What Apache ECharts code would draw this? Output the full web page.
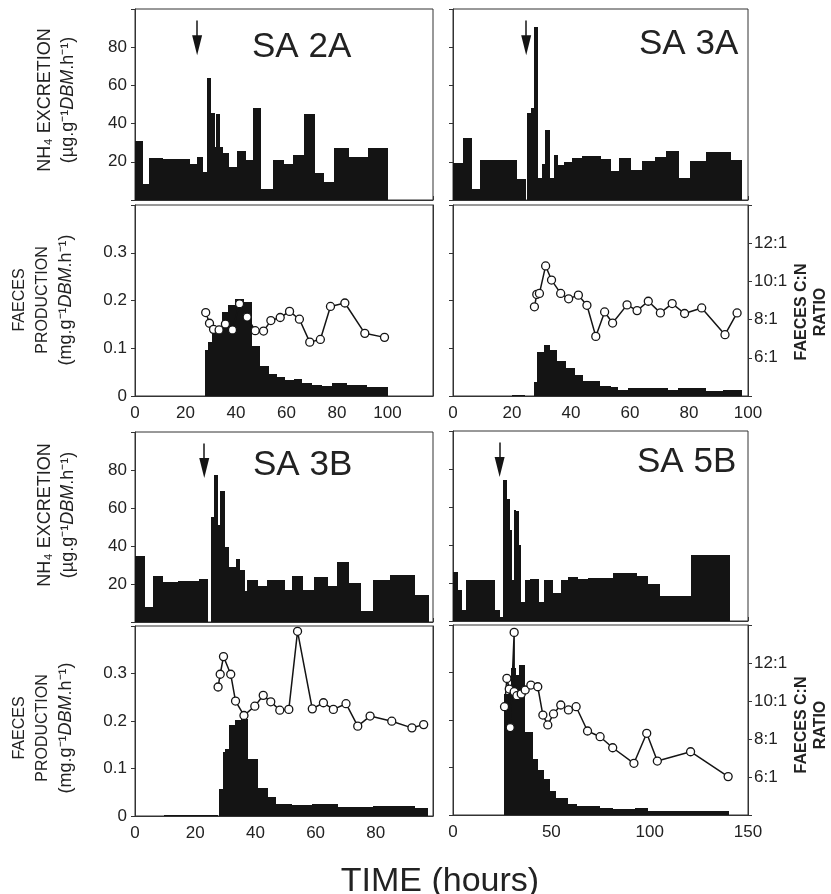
<!DOCTYPE html>
<html><head><meta charset="utf-8">
<script src="https://cdn.jsdelivr.net/npm/echarts@6/dist/echarts.min.js"></script>
<style>html,body{margin:0;padding:0;background:#fff}#c{width:831px;height:894px}</style>
</head><body><div id="c"></div>
<script>
// ---- DATA: steps as [startHour, endHour, value]; ratio points as [hour, C:N] ----
const panelNames = ['SA 2A', 'SA 3A', 'SA 3B', 'SA 5B'];
const timeMax = [118, 100, 99, 150];
const timeInterval = [20, 20, 20, 50];
const feedTimes = [24.6, 24.8, 23, 23.7];
const nh4Ticks = [20, 40, 60, 80];
const faecesTicks = [0, 0.1, 0.2, 0.3];
const ratioTicks = [6, 8, 10, 12];

const nh4_2A = [[0,3.3,31],[3.3,5.6,8.5],[5.6,11.2,22],[11.2,21.6,21.7],[21.6,24.5,19],[24.5,26.9,22.6],[26.9,28.7,14.6],[28.7,30.2,64],[30.2,31.5,45.5],[31.5,32.2,28],[32.2,33.7,45],[33.7,35,28],[35,37.4,24.7],[37.4,40.3,17.2],[40.3,43.9,25.5],[43.9,46.6,21.2],[46.6,50,48.2],[50,54.6,6],[54.6,59.1,20.9],[59.1,62.6,18.6],[62.6,66.8,23.8],[66.8,71.2,45.2],[71.2,75,14.2],[75,78.7,9.4],[78.7,84.7,27.3],[84.7,92.2,22.6],[92.2,100.3,27.3]];
const faeces_2A = [[27.8,29.1,0.096],[29.1,30.4,0.114],[30.4,32.4,0.136],[32.4,34.4,0.14],[34.4,37,0.176],[37,39.7,0.19],[39.7,43,0.204],[43,46.3,0.197],[46.3,49.6,0.105],[49.6,52.9,0.062],[52.9,56.2,0.046],[56.2,59.5,0.040],[59.5,62.8,0.033],[62.8,66.1,0.035],[66.1,70.1,0.028],[70.1,74.1,0.024],[74.1,78,0.021],[78,84,0.027],[84,91.9,0.024],[91.9,100.3,0.019]];
const ratio_2A = [[28.0,8.37],[29.5,7.81],[31.1,7.49],[33.3,7.46],[35.8,7.77],[38.6,7.46],[41.4,8.83],[44.4,8.13],[47.6,7.42],[50.9,7.40],[53.8,7.95],[57.5,8.11],[61.2,8.43],[65.1,8.02],[69.2,6.82],[73.4,6.96],[77.4,8.69],[83.1,8.87],[91.0,7.28],[98.8,7.07]];

const nh4_3A = [[0,3.4,19.5],[3.4,6.4,32.5],[6.4,9.0,5.9],[9.0,21.6,20.9],[21.6,24.7,10.8],[25.0,26.4,45.6],[26.4,27.5,48.2],[27.5,28.9,90.8],[28.9,30.1,11.6],[30.1,31.3,19.1],[31.3,32.9,36.9],[32.9,34.2,11.3],[34.2,35.7,23.6],[35.7,37.6,18.1],[37.6,40.5,20.1],[40.5,43.6,21.9],[43.6,50.1,22.9],[50.1,53.4,21.5],[53.4,56.2,15.1],[56.2,60.5,21.9],[60.5,64.2,15.5],[64.2,68.4,20.5],[68.4,72.1,22.3],[72.1,76.6,25.6],[76.6,80.2,11.6],[80.2,85.8,20.5],[85.8,94.3,25.1],[94.3,98,20.9]];
const faeces_3A = [[19.9,24.4,0.002],[27.3,28.6,0.030],[28.6,30.9,0.092],[30.9,32.9,0.107],[32.9,35.4,0.097],[35.4,38.3,0.073],[38.3,41.3,0.059],[41.3,44.1,0.043],[44.1,49.8,0.032],[49.8,53.4,0.021],[53.4,56,0.019],[56,59.3,0.012],[59.3,72.9,0.017],[72.9,76.2,0.012],[76.2,85.8,0.016],[85.8,91.4,0.010],[91.4,98,0.012]];
const ratio_3A = [[27.6,8.67],[28.4,9.32],[29.3,9.37],[31.4,10.81],[33.4,10.07],[36.5,9.37],[39.2,9.09],[42.5,9.28],[45.4,8.75],[48.4,7.12],[51.4,8.40],[54.1,7.82],[59,8.77],[62.4,8.47],[66.2,8.96],[70.3,8.35],[74.3,8.84],[78.5,8.32],[84.3,8.61],[92.2,7.21],[96.3,8.35]];

const nh4_3B = [[0,3.3,34.9],[3.3,5.9,8.1],[5.9,9.2,24.3],[9.2,14.2,21.3],[14.2,21.4,21.7],[21.4,24.2,22.6],[25.3,26.4,55.2],[26.4,27.6,77.2],[27.6,28.3,50.8],[28.3,29.8,69],[29.8,31.2,39.5],[31.2,33.4,28.7],[33.4,35,33.3],[35,36.4,27.5],[36.4,37.2,16.4],[37.2,40.9,22.2],[40.9,43.9,19],[43.9,49.8,22.2],[49.8,52.2,16.9],[52.2,55.7,24.3],[55.7,59.4,16.6],[59.4,64.2,23.6],[64.2,67,18.7],[67,71.2,31.4],[71.2,75,20.5],[75,79.2,6],[79.2,84.8,22.2],[84.8,93.1,24.5],[93.1,97.6,14.3]];
const faeces_3B = [[9.8,27.6,0.002],[27.9,29.2,0.057],[29.2,30,0.135],[30,31.1,0.142],[31.1,33.1,0.192],[33.1,35.3,0.202],[35.3,37.6,0.204],[37.6,40.9,0.121],[40.9,44.2,0.060],[44.2,46.7,0.041],[46.7,52,0.025],[52,58.7,0.023],[58.7,67.6,0.025],[67.6,79.2,0.018],[79.2,93.1,0.022],[93.1,97.3,0.016]];
const ratio_3B = [[27.6,10.79],[28.3,11.46],[29.4,12.39],[31.8,11.46],[33.4,10.05],[36.2,9.29],[39.8,9.78],[42.6,10.35],[45.1,10.01],[48.1,9.57],[51.1,9.61],[54,13.72],[58.9,9.64],[62.6,9.96],[65.9,9.61],[70.1,9.91],[74,8.73],[78.1,9.26],[85.3,8.99],[92,8.64],[95.9,8.81]];

const nh4_5B = [[0,2.4,25.8],[2.4,4.6,16.1],[4.6,6.8,6],[6.8,21.2,21.8],[21.2,24,6],[24,25.4,2],[25.4,27.4,74.4],[27.4,28.8,64.4],[28.8,29.9,47.7],[29.9,30.8,21.4],[30.8,32.1,58.2],[32.1,33.5,57.9],[33.5,34.7,40],[34.7,36.7,10],[36.7,39.3,21.4],[39.3,43.8,22.3],[43.8,46.4,10],[46.4,50.8,21.4],[50.8,54.8,14.7],[54.8,58.7,21.4],[58.7,63.5,23.2],[63.5,68.5,21.9],[68.5,81.2,22.5],[81.2,93.4,25.3],[93.4,99,23.9],[99,105.2,19.6],[105.2,120.8,13],[120.8,140.8,34.6]];
const faeces_5B = [[25.7,29.6,0.255],[29.6,32.1,0.31],[32.1,33.7,0.295],[33.7,36.4,0.315],[36.4,40.6,0.174],[40.6,43.1,0.118],[43.1,46.4,0.094],[46.4,49.4,0.076],[49.4,52.5,0.05],[52.5,58.7,0.036],[58.7,62.9,0.024],[62.9,74.8,0.019],[74.8,81.6,0.015],[81.6,92.6,0.0125],[92.6,99.3,0.015],[99.3,117.1,0.009],[117.1,140.4,0.008]];
const ratio_5B = [[26.2,9.70],[27.4,11.19],[28.6,10.63],[29.1,8.60],[31.1,13.61],[31.1,10.49],[32.5,10.28],[34.7,10.37],[36.7,10.58],[39.6,10.84],[43.1,10.75],[45.7,9.26],[48.2,8.74],[51.1,9.32],[54.8,9.79],[58.7,9.53],[62.6,9.70],[68.4,8.42],[74.8,8.12],[81.2,7.54],[92,6.72],[98.5,8.30],[103.9,6.84],[120.8,7.33],[139.9,6.02]];

const nh4Data = [nh4_2A, nh4_3A, nh4_3B, nh4_5B];
const faecesData = [faeces_2A, faeces_3A, faeces_3B, faeces_5B];
const ratioData = [ratio_2A, ratio_3A, ratio_3B, ratio_5B];

// ---- LAYOUT ----
const FONT = 'Liberation Sans, Arial, Helvetica, sans-serif';
const INK = '#141414';
const TXT = '#222';
const panelBox = [
  {left:135, nh4Top:9,   fTop:205, width:298, h:191},
  {left:453, nh4Top:9,   fTop:205, width:295, h:191},
  {left:135, nh4Top:432, fTop:626, width:298, h:190},
  {left:453, nh4Top:431, fTop:625, width:295, h:190}
];

const grid = [], xAxis = [], yAxis = [], series = [];
function stepRender(params, api) {
  const a = api.coord([api.value(0), api.value(2)]);
  const b = api.coord([api.value(1), 0]);
  const x0 = Math.round(a[0]), x1 = Math.round(b[0]);
  const y0 = Math.round(a[1]), y1 = Math.round(b[1]);
  return {type:'rect', shape:{x:x0, y:y0, width:Math.max(1, x1 - x0), height:Math.max(1, y1 - y0)},
          style:{fill:INK}};
}
const axisLineStyle = {color:'#333', width:1};

for (let p = 0; p < 4; p++) {
  const bx = panelBox[p];
  const isLeft = (p % 2 === 0);
  const gN = grid.length;
  grid.push({left:bx.left, top:bx.nh4Top, width:bx.width, height:bx.h, show:true, borderColor:'#333', borderWidth:1, containLabel:false});
  const gF = grid.length;
  grid.push({left:bx.left, top:bx.fTop, width:bx.width, height:bx.h, show:true, borderColor:'#333', borderWidth:1, containLabel:false});

  const xN = xAxis.length;
  xAxis.push({type:'value', gridIndex:gN, min:0, max:timeMax[p], interval:timeInterval[p],
    axisLine:{lineStyle:axisLineStyle}, axisTick:{inside:true, length:4, lineStyle:{color:'#333'}},
    axisLabel:{show:false}, splitLine:{show:false}});
  const xF = xAxis.length;
  xAxis.push({type:'value', gridIndex:gF, min:0, max:timeMax[p], interval:timeInterval[p],
    axisLine:{lineStyle:axisLineStyle}, axisTick:{show:false},
    axisLabel:{show:true, fontSize:17, color:TXT, fontFamily:FONT, margin:9,
      formatter: v => (v > timeMax[p] - 1e-9 && timeMax[p] % timeInterval[p] !== 0) ? '' : String(v)},
    splitLine:{show:false}});

  const yN = yAxis.length;
  yAxis.push({type:'value', gridIndex:gN, min:0, max:100, interval:20,
    axisLine:{show:true, lineStyle:axisLineStyle}, axisTick:{show:true, length:4, lineStyle:{color:'#333'}},
    axisLabel:{show:isLeft, fontSize:17, color:TXT, fontFamily:FONT, margin:8,
      formatter: v => nh4Ticks.indexOf(v) >= 0 ? String(v) : ''},
    splitLine:{show:false}});
  const yF = yAxis.length;
  yAxis.push({type:'value', gridIndex:gF, min:0, max:0.4, interval:0.1,
    axisLine:{show:true, lineStyle:axisLineStyle}, axisTick:{show:true, length:4, lineStyle:{color:'#333'}},
    axisLabel:{show:isLeft, fontSize:17, color:TXT, fontFamily:FONT, margin:8,
      formatter: v => { const r = Math.round(v*10)/10; return faecesTicks.indexOf(r) >= 0 ? (r === 0 ? '0' : r.toFixed(1)) : ''; }},
    splitLine:{show:false}});
  const yR = yAxis.length;
  yAxis.push({type:'value', gridIndex:gF, position:'right', min:4, max:14, interval:2,
    axisLine:{show:true, lineStyle:axisLineStyle}, axisTick:{show:!isLeft, length:4, lineStyle:{color:'#333'}},
    axisLabel:{show:!isLeft, fontSize:17, color:TXT, fontFamily:FONT, margin:6,
      formatter: v => ratioTicks.indexOf(v) >= 0 ? v + ':1' : ''},
    splitLine:{show:false}});

  series.push({type:'custom', xAxisIndex:xN, yAxisIndex:yN, data:nh4Data[p], encode:{x:[0,1], y:2},
    renderItem:stepRender, silent:true, z:2, animation:false,
    markLine:{silent:true, animation:false, symbol:['none','triangle'], symbolSize:[10,20],
      lineStyle:{color:INK, width:1.5, type:'solid'}, label:{show:false},
      data:[[{coord:[feedTimes[p], 94]}, {coord:[feedTimes[p], 81]}]]}});
  series.push({type:'custom', xAxisIndex:xF, yAxisIndex:yF, data:faecesData[p], encode:{x:[0,1], y:2},
    renderItem:stepRender, silent:true, z:2, animation:false});
  series.push({type:'line', xAxisIndex:xF, yAxisIndex:yR, data:ratioData[p], symbol:'circle', symbolSize:8,
    showAllSymbol:true, animation:false, silent:true, z:5,
    itemStyle:{color:'#fff', borderColor:INK, borderWidth:1.3},
    lineStyle:{color:INK, width:1.5}});
}

// ---- TEXT ----
const graphic = [];
const titlePos = [[252,47],[639,44],[253,465],[637,462]];
for (let p = 0; p < 4; p++) {
  graphic.push({type:'text', x:titlePos[p][0], y:titlePos[p][1],
    style:{text:panelNames[p], font:'35px ' + FONT, fill:TXT, align:'left', verticalAlign:'middle'}});
}
function vText(x, y, text, rich) {
  graphic.push({type:'text', x:x, y:y, rotation:Math.PI/2,
    style:{text:text, rich:rich, font:'16px ' + FONT, fill:TXT, align:'center', verticalAlign:'middle'}});
}
const richUnits = {n:{fontSize:18, fontFamily:FONT, color:TXT}, i:{fontSize:18, fontFamily:FONT, fontStyle:'italic', color:TXT},
                   m:{fontSize:16, fontFamily:FONT, color:TXT}};
[100, 515].forEach(cy => {
  vText(45, cy, '{n|NH\u2084 EXCRETION}', richUnits);
  vText(68, cy, '{n|(\u00b5g.g\u207b\u00b9}{i|DBM}{n|.h\u207b\u00b9)}', richUnits);
});
[300, 728].forEach(cy => {
  vText(20, cy, '{m|FAECES}', richUnits);
  vText(43, cy, '{m|PRODUCTION}', richUnits);
  vText(66, cy, '{n|(mg.g\u207b\u00b9}{i|DBM}{n|.h\u207b\u00b9)}', richUnits);
});
const richBold = {b:{fontSize:16, fontFamily:FONT, fontWeight:'bold', color:TXT}};
[312, 725].forEach(cy => {
  vText(802, cy, '{b|FAECES C:N}', richBold);
  vText(821, cy, '{b|RATIO}', richBold);
});
graphic.push({type:'text', x:440, y:882,
  style:{text:'TIME (hours)', font:'34px ' + FONT, fill:TXT, align:'center', verticalAlign:'middle'}});

const chart = echarts.init(document.getElementById('c'), null, {renderer:'canvas'});
chart.setOption({animation:false, backgroundColor:'#fff', grid, xAxis, yAxis, series, graphic});
</script>
</body></html>
